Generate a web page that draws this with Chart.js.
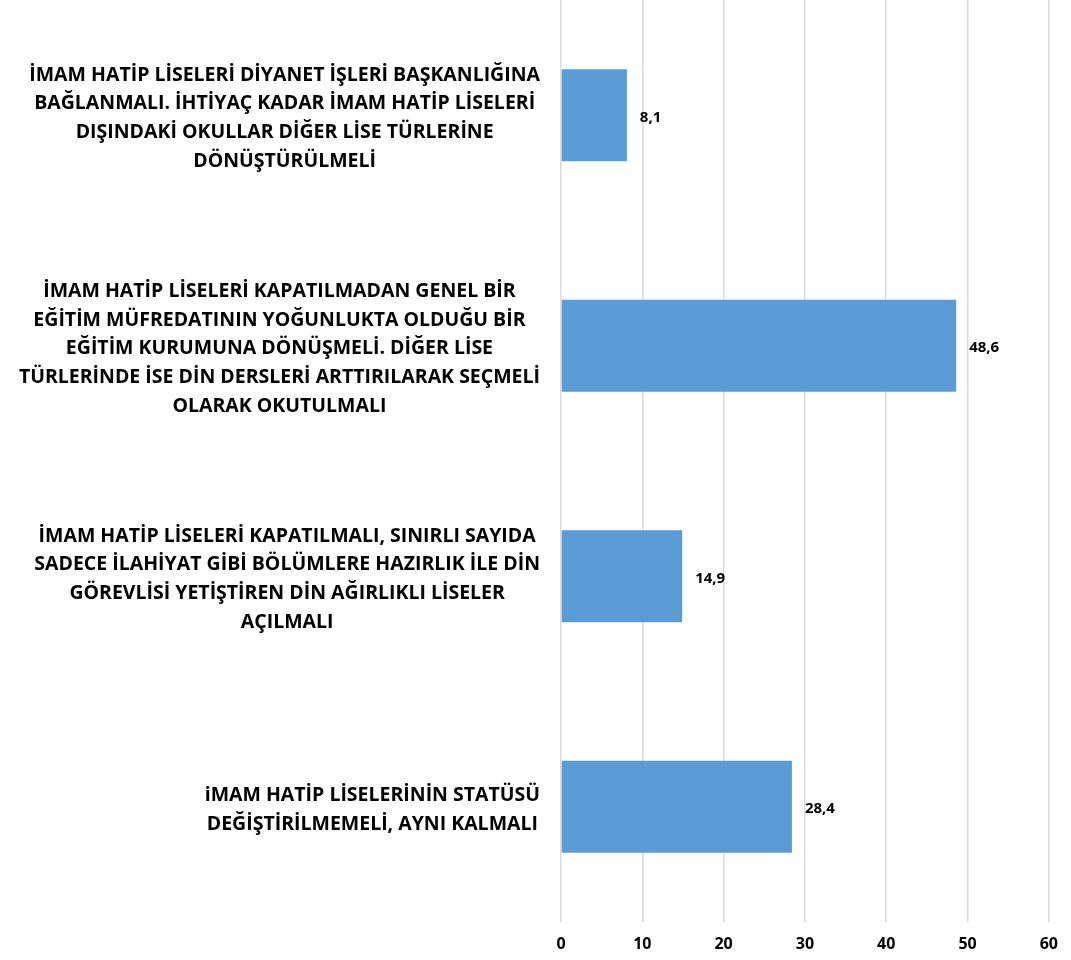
<!DOCTYPE html>
<html lang="tr">
<head>
    <meta charset="UTF-8">
    <title>İmam Hatip Liseleri</title>
    <script src="https://cdn.jsdelivr.net/npm/chart.js"></script>
    <style>
        html, body {
            margin: 0;
            padding: 0;
            background: #ffffff;
        }
        .chart-container {
            position: relative;
            width: 1071px;
            height: 960px;
        }
    </style>
</head>
<body>
<div class="chart-container"><canvas id="chart"></canvas></div>

<script>
    // category labels, already broken into lines like the original
    const categories = [
        ['İMAM HATİP LİSELERİ DİYANET İŞLERİ BAŞKANLIĞINA', 'BAĞLANMALI. İHTİYAÇ KADAR İMAM HATİP LİSELERİ', 'DIŞINDAKİ OKULLAR DİĞER LİSE TÜRLERİNE', 'DÖNÜŞTÜRÜLMELİ'],
        ['İMAM HATİP LİSELERİ KAPATILMADAN GENEL BİR', 'EĞİTİM MÜFREDATININ YOĞUNLUKTA OLDUĞU BİR', 'EĞİTİM KURUMUNA DÖNÜŞMELİ. DİĞER LİSE', 'TÜRLERİNDE İSE DİN DERSLERİ ARTTIRILARAK SEÇMELİ', 'OLARAK OKUTULMALI'],
        ['İMAM HATİP LİSELERİ KAPATILMALI, SINIRLI SAYIDA', 'SADECE İLAHİYAT GİBİ BÖLÜMLERE HAZIRLIK İLE DİN', 'GÖREVLİSİ YETİŞTİREN DİN AĞIRLIKLI LİSELER', 'AÇILMALI'],
        ['iMAM HATİP LİSELERİNİN STATÜSÜ', 'DEĞİŞTİRİLMEMELİ, AYNI KALMALI']
    ];
    const values = [8.1, 48.6, 14.9, 28.4];
    const valueLabels = ['8,1', '48,6', '14,9', '28,4'];
    const xTicks = [0, 10, 20, 30, 40, 50, 60];

    const FONT = '"Open Sans", Lato, sans-serif';

    // draws the wrapped category labels: each block right-aligned, lines centred inside it
    const categoryLabels = {
        id: 'categoryLabels',
        afterDraw(chart) {
            const ctx = chart.ctx;
            const yScale = chart.scales.y;
            const right = chart.chartArea.left - 21;
            const lineH = 28.7;
            ctx.save();
            ctx.font = 'bold 19.5px ' + FONT;
            ctx.fillStyle = '#000000';
            ctx.textAlign = 'center';
            ctx.textBaseline = 'middle';
            categories.forEach((lines, i) => {
                const yc = yScale.getPixelForTick(i) + 3;
                const blockW = Math.max(...lines.map(l => ctx.measureText(l).width));
                const xc = right - blockW / 2;
                const top = yc - (lines.length - 1) * lineH / 2;
                lines.forEach((l, j) => ctx.fillText(l, xc, top + j * lineH));
            });
            ctx.restore();
        }
    };

    // value labels at the end of each bar
    const valueLabelPlugin = {
        id: 'valueLabels',
        afterDatasetsDraw(chart) {
            const ctx = chart.ctx;
            const meta = chart.getDatasetMeta(0);
            ctx.save();
            ctx.font = 'bold 15px ' + FONT;
            ctx.fillStyle = '#000000';
            ctx.textAlign = 'left';
            ctx.textBaseline = 'middle';
            meta.data.forEach((bar, i) => {
                ctx.fillText(valueLabels[i], bar.x + 13, bar.y + 2);
            });
            ctx.restore();
        }
    };

    new Chart(document.getElementById('chart'), {
        type: 'bar',
        data: {
            labels: categories,
            datasets: [{
                data: values,
                backgroundColor: '#5B9BD5',
                borderWidth: 0,
                barPercentage: 0.4,
                categoryPercentage: 1.0
            }]
        },
        options: {
            indexAxis: 'y',
            responsive: true,
            maintainAspectRatio: false,
            animation: false,
            layout: {
                padding: {top: 0, right: 22, bottom: 0, left: 0}
            },
            plugins: {
                legend: {display: false},
                tooltip: {enabled: false}
            },
            scales: {
                x: {
                    min: 0,
                    max: 60,
                    afterBuildTicks(axis) {
                        axis.ticks = xTicks.map(v => ({value: v}));
                    },
                    afterFit(axis) {
                        axis.height = 38;
                    },
                    grid: {
                        color: '#D9D9D9',
                        lineWidth: 1.5,
                        drawTicks: false
                    },
                    border: {display: false},
                    ticks: {
                        padding: 13,
                        color: '#000000',
                        font: {family: FONT, size: 16, weight: 'bold'}
                    }
                },
                y: {
                    grid: {display: false},
                    border: {display: false},
                    ticks: {display: false},
                    afterFit(axis) {
                        axis.width = 561;
                    }
                }
            }
        },
        plugins: [categoryLabels, valueLabelPlugin]
    });
</script>
</body>
</html>
